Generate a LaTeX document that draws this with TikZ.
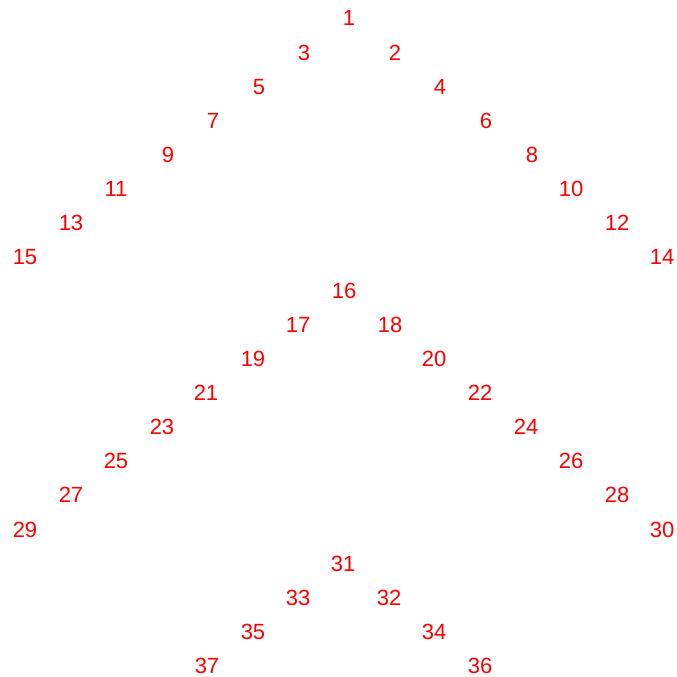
\documentclass[tikz,border=0pt]{standalone}
\usepackage{fontspec}
\setmainfont{Liberation Sans}
\begin{document}
\begin{tikzpicture}[x=1pt,y=-1pt,
  lbl/.style={text=red,inner sep=0pt,font=\fontsize{22}{26}\selectfont}]
\useasboundingbox (0,0) rectangle (677,677);
\foreach \n/\x/\y in {1/349/17,3/304/52,2/395/52,5/259/86,4/440/86,7/213/120,6/486/120,
 9/168/154,8/532/154,11/116/188,10/571/188,13/71/222,12/617/222,15/25/256,14/662/256,
 16/344/290,17/298/324,18/390/324,19/253/358,20/434/358,21/206/392,22/480/392,
 23/162/426,24/526/426,25/116/460,26/571/460,27/71/494,28/617/494,29/25/529,30/662/529,
 31/343/563,33/298/597,32/389/597,35/253/631,34/434/631,37/207/665,36/480/665}
  \node[lbl] (n\n) at (\x,\y+1) {\n};
\end{tikzpicture}
\end{document}
